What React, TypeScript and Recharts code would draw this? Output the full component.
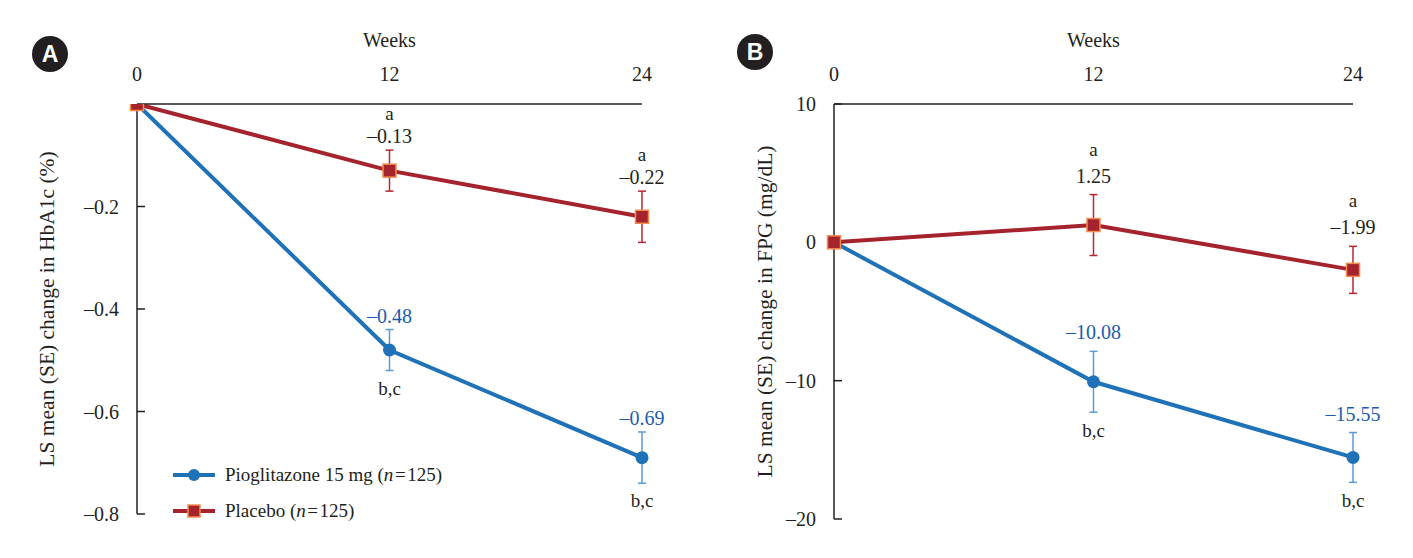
import React from "react";
import {
  LineChart,
  Line,
  XAxis,
  YAxis,
  ErrorBar,
  LabelList,
  Label,
  Legend,
} from "recharts";

// weeks on the top axis
const weeks = [0, 12, 24];

// panel A: HbA1c change (%)
const hba1cPio = [0, -0.48, -0.69];
const hba1cPioSe = [0, 0.04, 0.05];
const hba1cPbo = [0, -0.13, -0.22];
const hba1cPboSe = [0, 0.04, 0.05];
const hba1cTicks = [-0.8, -0.6, -0.4, -0.2];

// panel B: FPG change (mg/dL)
const fpgPio = [0, -10.08, -15.55];
const fpgPioSe = [0, 2.2, 1.8];
const fpgPbo = [0, 1.25, -1.99];
const fpgPboSe = [0, 2.2, 1.7];
const fpgTicks = [-20, -10, 0, 10];

// significance marks
const pioNotes = ["", "b,c", "b,c"];
const pboNotes = ["", "a", "a"];

const PIO_NAME = "Pioglitazone 15 mg (n=125)";
const PBO_NAME = "Placebo (n=125)";

const SERIF = '"Liberation Serif", "DejaVu Serif", serif';
const INK = "#231f20";
const BLUE = "#1f72b8";
const BLUE_TEXT = "#1c5cae";
const BLUE_ERR = "#5b9bd5";
const RED = "#a5232c";
const RED_ERR = "#b8262e";
const ORANGE = "#f28c4e";

const fmt = (v: number, d: number) => v.toFixed(d).replace("-", "\u2013");

function renderName(name: string) {
  const i = name.indexOf("(n=");
  if (i < 0) return name;
  return (
    <>
      {name.slice(0, i + 1)}
      <i>n</i>
      {"\u200a=\u200a" + name.slice(i + 3)}
    </>
  );
}

function LegendContent({ payload }: any) {
  const items = (payload || []).filter(
    (e: any) => e.value === PIO_NAME || e.value === PBO_NAME
  );
  return (
    <div style={{ fontFamily: SERIF, fontSize: 19, color: INK }}>
      {items.map((e: any) => (
        <div
          key={e.value}
          style={{ display: "flex", alignItems: "center", height: 36, whiteSpace: "nowrap" }}
        >
          <svg width={44} height={16}>
            <line x1={1} x2={43} y1={8} y2={8} stroke={e.color} strokeWidth={4} />
            {e.value === PIO_NAME ? (
              <circle cx={22} cy={8} r={6} fill={BLUE} />
            ) : (
              <rect x={16} y={2} width={12} height={12} fill={RED} stroke={ORANGE} strokeWidth={1.5} />
            )}
          </svg>
          <span style={{ marginLeft: 9 }}>{renderName(e.value)}</span>
        </div>
      ))}
    </div>
  );
}

const SquareDot = (p: any) => (
  <rect
    key={p.index}
    x={p.cx - 6.5}
    y={p.cy - 6.5}
    width={13}
    height={13}
    fill={RED}
    stroke={ORANGE}
    strokeWidth={1.5}
  />
);

interface PanelProps {
  pio: number[];
  pioSe: number[];
  pbo: number[];
  pboSe: number[];
  domain: [number, number];
  ticks: number[];
  digits: number;
  yLabel: string;
  yLabelDx: number;
  left: number;
  width: number;
  margin: { top: number; right: number; bottom: number; left: number };
  gap: number;
  noteGap: number;
  aGap: number;
  legend?: boolean;
}

function Panel(props: PanelProps) {
  const { pio, pioSe, pbo, pboSe, digits, gap, noteGap, aGap } = props;
  const rows = weeks.map((w, i) => ({
    week: w,
    pio: pio[i],
    pioSe: pioSe[i],
    pioHi: pio[i] + pioSe[i],
    pioLo: pio[i] - pioSe[i],
    pbo: pbo[i],
    pboSe: pboSe[i],
    pboHi: pbo[i] + pboSe[i],
  }));

  const pioAbove = (p: any) =>
    p.index === 0 ? null : (
      <text
        key={p.index}
        x={p.x}
        y={p.y - gap}
        textAnchor="middle"
        fill={BLUE_TEXT}
        fontSize={20}
        fontFamily={SERIF}
      >
        {fmt(pio[p.index], 2)}
      </text>
    );
  const pioBelow = (p: any) =>
    p.index === 0 ? null : (
      <text
        key={p.index}
        x={p.x}
        y={p.y + noteGap}
        textAnchor="middle"
        fill={INK}
        fontSize={19}
        fontFamily={SERIF}
      >
        {pioNotes[p.index]}
      </text>
    );
  const pboAbove = (p: any) =>
    p.index === 0 ? null : (
      <g key={p.index}>
        <text
          x={p.x}
          y={p.y - gap - aGap}
          textAnchor="middle"
          fill={INK}
          fontSize={19}
          fontFamily={SERIF}
        >
          {pboNotes[p.index]}
        </text>
        <text
          x={p.x}
          y={p.y - gap}
          textAnchor="middle"
          fill={INK}
          fontSize={20}
          fontFamily={SERIF}
        >
          {fmt(pbo[p.index], 2)}
        </text>
      </g>
    );

  const yLabelContent = (lp: any) => {
    const vb = lp.viewBox || {};
    const x = vb.x + props.yLabelDx;
    const y = vb.y + vb.height / 2;
    return (
      <text
        x={x}
        y={y}
        transform={`rotate(-90, ${x}, ${y})`}
        textAnchor="middle"
        dominantBaseline="central"
        fill={INK}
        fontSize={21.5}
        fontFamily={SERIF}
      >
        {props.yLabel}
      </text>
    );
  };

  return (
    <div style={{ position: "absolute", left: props.left, top: 0 }}>
      <LineChart width={props.width} height={558} data={rows} margin={props.margin}>
        <XAxis
          dataKey="week"
          type="number"
          orientation="top"
          domain={[0, 24]}
          ticks={weeks}
          height={30}
          axisLine={{ stroke: INK, strokeWidth: 1.5 }}
          tickLine={false}
          tickSize={0}
          tickMargin={23}
          tick={{ fill: INK, fontSize: 20, fontFamily: SERIF }}
        >
          <Label
            value="Weeks"
            position="top"
            offset={27}
            style={{ fill: INK, fontSize: 20, fontFamily: SERIF }}
          />
        </XAxis>
        <YAxis
          type="number"
          domain={props.domain}
          ticks={props.ticks}
          width={100}
          allowDataOverflow
          axisLine={{ stroke: INK, strokeWidth: 1.5 }}
          tickLine={{ stroke: INK, strokeWidth: 1.5 }}
          tickSize={-8}
          tickMargin={26}
          tickFormatter={(v: number) => fmt(v, digits)}
          tick={{ fill: INK, fontSize: 20, fontFamily: SERIF }}
        >
          <Label content={yLabelContent} />
        </YAxis>
        {props.legend && (
          <Legend
            layout="vertical"
            align="center"
            verticalAlign="middle"
            wrapperStyle={{ left: 172, top: 457, width: 330 }}
            content={<LegendContent />}
          />
        )}
        <Line
          dataKey="pio"
          name={PIO_NAME}
          type="linear"
          stroke={BLUE}
          strokeWidth={4}
          legendType="circle"
          dot={{ r: 6.5, fill: BLUE, stroke: BLUE, strokeWidth: 0 }}
          activeDot={false}
          isAnimationActive={false}
        >
          <ErrorBar dataKey="pioSe" direction="y" width={4} stroke={BLUE_ERR} strokeWidth={1.5} />
        </Line>
        <Line
          dataKey="pbo"
          name={PBO_NAME}
          type="linear"
          stroke={RED}
          strokeWidth={4}
          legendType="square"
          dot={SquareDot}
          activeDot={false}
          isAnimationActive={false}
        >
          <ErrorBar dataKey="pboSe" direction="y" width={4} stroke={RED_ERR} strokeWidth={1.5} />
        </Line>
        <Line
          dataKey="pioHi"
          stroke="none"
          dot={false}
          activeDot={false}
          legendType="none"
          isAnimationActive={false}
        >
          <LabelList dataKey="pioHi" content={pioAbove} />
        </Line>
        <Line
          dataKey="pioLo"
          stroke="none"
          dot={false}
          activeDot={false}
          legendType="none"
          isAnimationActive={false}
        >
          <LabelList dataKey="pioLo" content={pioBelow} />
        </Line>
        <Line
          dataKey="pboHi"
          stroke="none"
          dot={false}
          activeDot={false}
          legendType="none"
          isAnimationActive={false}
        >
          <LabelList dataKey="pboHi" content={pboAbove} />
        </Line>
      </LineChart>
    </div>
  );
}

function Badge({ letter, cx, cy }: { letter: string; cx: number; cy: number }) {
  return (
    <div
      style={{
        position: "absolute",
        left: cx - 18,
        top: cy - 18,
        width: 36,
        height: 36,
        borderRadius: "50%",
        background: INK,
        color: "#fff",
        display: "flex",
        alignItems: "center",
        justifyContent: "center",
        fontFamily: '"Liberation Sans", Arial, sans-serif',
        fontWeight: 700,
        fontSize: 23,
      }}
    >
      {letter}
    </div>
  );
}

export default function App() {
  return (
    <div
      style={{
        position: "absolute",
        left: 0,
        top: 0,
        width: 1413,
        height: 558,
        background: "#fff",
        overflow: "hidden",
      }}
    >
      <Panel
        pio={hba1cPio}
        pioSe={hba1cPioSe}
        pbo={hba1cPbo}
        pboSe={hba1cPboSe}
        domain={[-0.8, 0]}
        ticks={hba1cTicks}
        digits={1}
        yLabel="LS mean (SE) change in HbA1c (%)"
        yLabelDx={10}
        left={0}
        width={700}
        margin={{ top: 74, right: 58, bottom: 44, left: 37 }}
        gap={7}
        noteGap={24}
        aGap={23}
        legend
      />
      <Panel
        pio={fpgPio}
        pioSe={fpgPioSe}
        pbo={fpgPbo}
        pboSe={fpgPboSe}
        domain={[-20, 10]}
        ticks={fpgTicks}
        digits={0}
        yLabel="LS mean (SE) change in FPG (mg/dL)"
        yLabelDx={31}
        left={700}
        width={713}
        margin={{ top: 74, right: 60, bottom: 39, left: 34 }}
        gap={12}
        noteGap={25}
        aGap={27}
      />
      <Badge letter="A" cx={50} cy={54} />
      <Badge letter="B" cx={755} cy={52} />
    </div>
  );
}
